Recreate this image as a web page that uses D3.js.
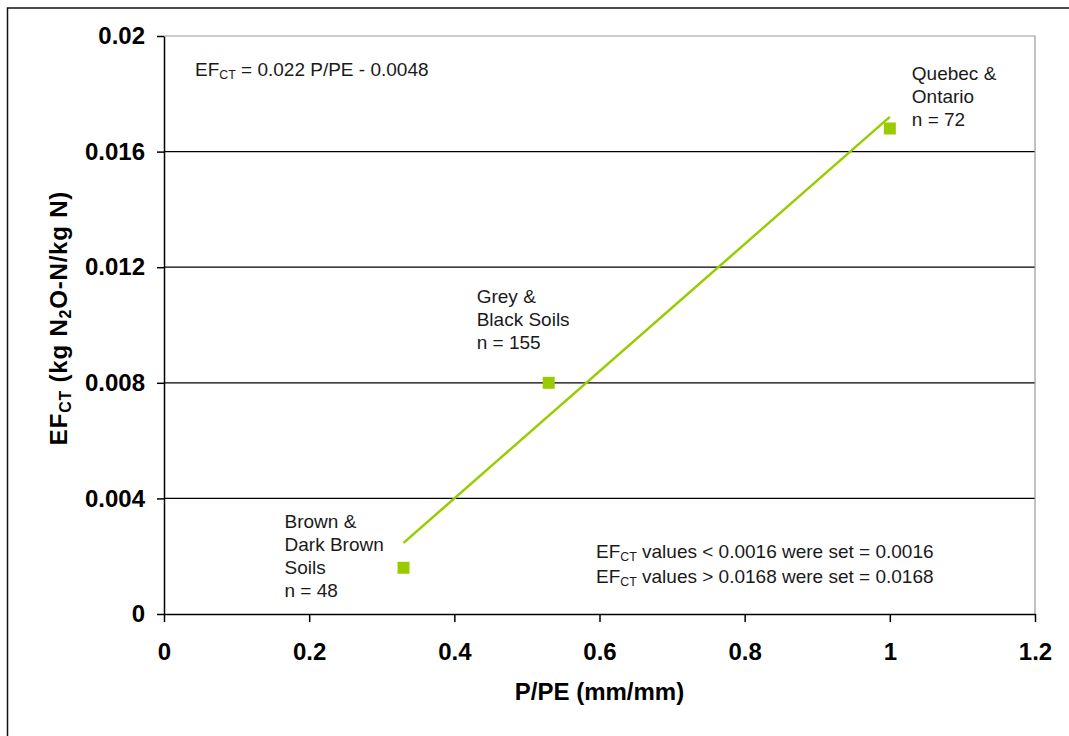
<!DOCTYPE html>
<html>
<head>
<meta charset="utf-8">
<script src="https://cdn.jsdelivr.net/npm/d3@7"></script>
<style>
  body { margin: 0; background: #fff; }
  text { font-family: "Liberation Sans", Arial, sans-serif; }
</style>
</head>
<body>
<div id="chart"></div>
<script>
// soil regions, P/PE ratio and mean EF_CT for each
const regionLabels = [
  ["Brown &", "Dark Brown", "Soils", "n = 48"],
  ["Grey &", "Black Soils", "n = 155"],
  ["Quebec &", "Ontario", "n = 72"]
];
const ppeValues = [0.33, 0.53, 1.0];
const efValues = [0.0016, 0.008, 0.0168];

const xTicks = [0, 0.2, 0.4, 0.6, 0.8, 1, 1.2];
const yTicks = [0, 0.004, 0.008, 0.012, 0.016, 0.02];

// fitted line shown on the chart: EF = 0.022 P/PE - 0.0048
const trendSlope = 0.022;
const trendIntercept = -0.0048;
const trendFrom = 0.33, trendTo = 1.0;

(function(){
  const width = 1069, height = 736;
  const plot = { left: 164, right: 1035, top: 36, bottom: 614 };
  const green = "#99cc00";

  const svg = d3.select("#chart")
    .append("svg")
    .attr("width", width)
    .attr("height", height);

  // outer frame, runs off the right and bottom edges
  svg.append("rect")
    .attr("x", 7.5).attr("y", 8)
    .attr("width", 1090).attr("height", 780)
    .attr("fill", "none")
    .attr("stroke", "#111")
    .attr("stroke-width", 1.5);

  const x = d3.scaleLinear().domain([0, 1.2]).range([plot.left, plot.right]);
  const y = d3.scaleLinear().domain([0, 0.02]).range([plot.bottom, plot.top]);

  // gridlines
  svg.append("g")
    .selectAll("line")
    .data(yTicks.filter(d => d > 0 && d < 0.02))
    .join("line")
    .attr("x1", x(0)).attr("x2", x(1.2))
    .attr("y1", d => y(d)).attr("y2", d => y(d))
    .attr("stroke", "#000")
    .attr("stroke-width", 1.2);

  // grey top and right border of plot area
  svg.append("path")
    .attr("d", `M${x(0)},${y(0.02)}H${x(1.2)}V${y(0)}`)
    .attr("fill", "none")
    .attr("stroke", "#999")
    .attr("stroke-width", 1.2);

  const xAxis = svg.append("g")
    .attr("transform", `translate(0,${plot.bottom})`)
    .call(d3.axisBottom(x).tickValues(xTicks).tickFormat(d => String(d))
      .tickSize(8).tickSizeOuter(0).tickPadding(21));

  const yAxis = svg.append("g")
    .attr("transform", `translate(${plot.left},0)`)
    .call(d3.axisLeft(y).tickValues(yTicks).tickFormat(d => String(d))
      .tickSize(7).tickSizeOuter(0).tickPadding(12));

  [xAxis, yAxis].forEach(g => {
    g.select(".domain").attr("stroke", "#000").attr("stroke-width", 1.5);
    g.selectAll(".tick line").attr("stroke", "#000").attr("stroke-width", 1.5);
    g.selectAll(".tick text")
      .attr("fill", "#000")
      .attr("font-size", "24px")
      .attr("font-weight", "bold")
      .style("font-family", "'Liberation Sans', Arial, sans-serif");
  });

  // trend line
  svg.append("line")
    .attr("x1", x(trendFrom))
    .attr("y1", y(trendSlope * trendFrom + trendIntercept))
    .attr("x2", x(trendTo))
    .attr("y2", y(trendSlope * trendTo + trendIntercept))
    .attr("stroke", green)
    .attr("stroke-width", 2.5);

  // markers
  const pts = ppeValues.map((p, i) => ({ p, ef: efValues[i], lines: regionLabels[i] }));
  svg.append("g")
    .selectAll("rect")
    .data(pts)
    .join("rect")
    .attr("x", d => x(d.p) - 6)
    .attr("y", d => y(d.ef) - 6)
    .attr("width", 12)
    .attr("height", 12)
    .attr("fill", green);

  // point labels, offset from each marker
  const offsets = [[-119, -40], [-72, -80], [22, -48]];
  pts.forEach((d, i) => {
    const t = svg.append("text")
      .attr("x", x(d.p) + offsets[i][0])
      .attr("y", y(d.ef) + offsets[i][1])
      .attr("font-size", "19px")
      .attr("fill", "#1a1a1a");
    d.lines.forEach((s, j) => {
      t.append("tspan")
        .attr("x", x(d.p) + offsets[i][0])
        .attr("dy", j === 0 ? 0 : 23)
        .text(s);
    });
  });

  // text with EF_CT subscript
  function efText(g, px, py, rest, size) {
    const t = g.append("text")
      .attr("x", px).attr("y", py)
      .attr("font-size", size + "px")
      .attr("fill", "#1a1a1a");
    t.append("tspan").text("EF");
    t.append("tspan").attr("font-size", (size * 0.65) + "px").attr("dy", size * 0.18).text("CT");
    t.append("tspan").attr("dy", -size * 0.18).text(rest);
    return t;
  }

  efText(svg, 195, 76, " = 0.022 P/PE - 0.0048", 19);
  efText(svg, 596, 558, " values < 0.0016 were set = 0.0016", 19);
  efText(svg, 596, 583, " values > 0.0168 were set = 0.0168", 19);

  // axis titles
  svg.append("text")
    .attr("x", (x(0) + x(1.2)) / 2)
    .attr("y", 700)
    .attr("text-anchor", "middle")
    .attr("font-size", "24px")
    .attr("font-weight", "bold")
    .attr("fill", "#000")
    .text("P/PE (mm/mm)");

  const yt = svg.append("text")
    .attr("transform", `translate(67,${(plot.top + plot.bottom) / 2 - 7}) rotate(-90)`)
    .attr("text-anchor", "middle")
    .attr("font-size", "24px")
    .attr("font-weight", "bold")
    .attr("letter-spacing", "0.8px")
    .attr("fill", "#000");
  yt.append("tspan").text("EF");
  yt.append("tspan").attr("font-size", "16px").attr("dy", 4).text("CT");
  yt.append("tspan").attr("dy", -4).text(" (kg N");
  yt.append("tspan").attr("font-size", "16px").attr("dy", 4).text("2");
  yt.append("tspan").attr("dy", -4).text("O-N/kg N)");
})();
</script>
</body>
</html>
